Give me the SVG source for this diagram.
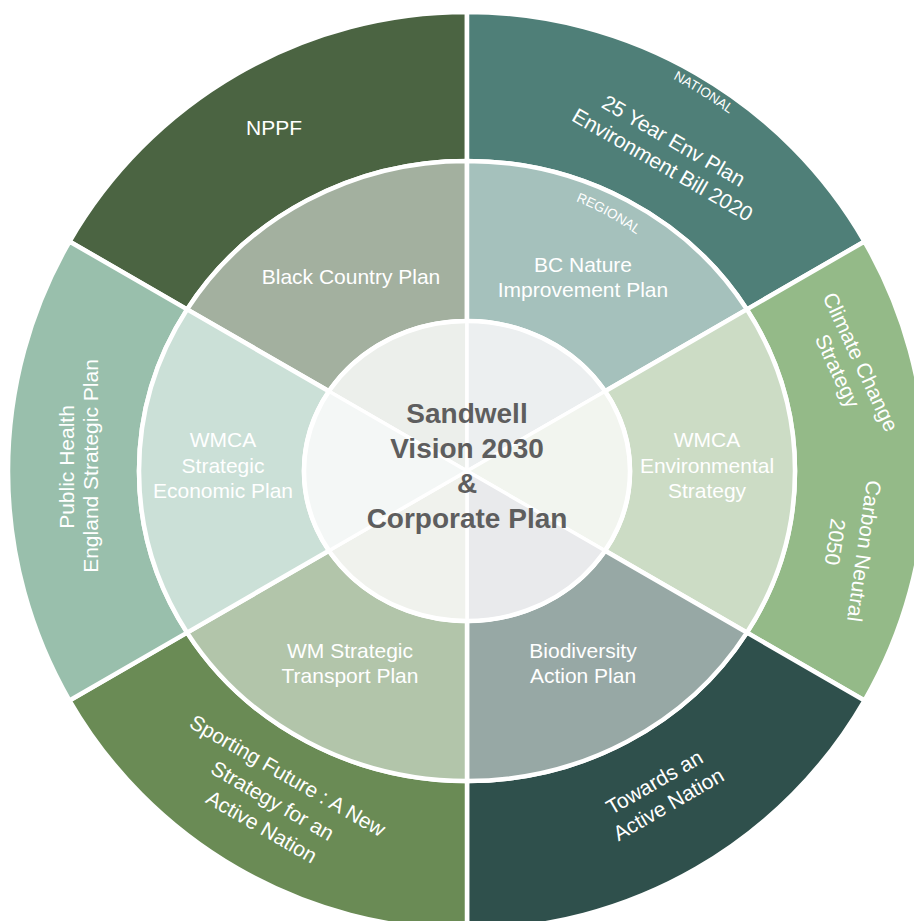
<svg xmlns="http://www.w3.org/2000/svg" width="914" height="921" viewBox="0 0 914 921">
<defs>
<style>
.seg{stroke:#ffffff;stroke-width:4.5;stroke-linejoin:miter}
.in{stroke:#ffffff;stroke-width:3.5}
.t{font-family:"Liberation Sans",Arial,Helvetica,sans-serif;font-size:21px;fill:#ffffff;text-anchor:middle}
.s{font-family:"Liberation Sans",Arial,Helvetica,sans-serif;font-size:13.5px;fill:#ffffff;text-anchor:middle}
.c{font-family:"Liberation Sans",Arial,Helvetica,sans-serif;font-size:28px;font-weight:bold;fill:#5e5e5e;text-anchor:middle}
</style>
<path id="arcNat" d="M596.5,47.4 A443,443 0 0 1 791,168.9"/>
<path id="arcReg" d="M542.3,189.9 A291,291 0 0 1 672.8,265.2"/>
</defs>
<rect width="914" height="921" fill="#ffffff"/>

<g id="nppf">
<path class="seg" fill="#4b6442" d="M69.5,241.5 A459,459 0 0 1 467,12 L467,161 A328,310 0 0 0 187.1,309.4 Z"/>
<text class="t" x="274" y="135">NPPF</text>
</g>
<g id="env-plan">
<path class="seg" fill="#4f7f78" d="M467,12 A459,459 0 0 1 864.5,241.5 L746.9,309.4 A328,310 0 0 0 467,161 Z"/>
<text class="s"><textPath href="#arcNat" startOffset="50%">NATIONAL</textPath></text>
<text class="t" transform="translate(670,147) rotate(30)">25 Year Env Plan</text>
<text class="t" transform="translate(659,171) rotate(30)">Environment Bill 2020</text>
</g>
<g id="climate">
<path class="seg" fill="#94ba88" d="M864.5,241.5 A459,459 0 0 1 864.5,700.5 L746.9,632.6 A328,310 0 0 0 746.9,309.4 Z"/>
<text class="t" transform="translate(854,365) rotate(65)">Climate Change</text>
<text class="t" transform="translate(831,374) rotate(65)">Strategy</text>
<text class="t" transform="translate(857,550) rotate(98)">Carbon Neutral</text>
<text class="t" transform="translate(828,541) rotate(98)">2050</text>
</g>
<g id="active-nation">
<path class="seg" fill="#2f504c" d="M864.5,700.5 A459,459 0 0 1 467,930 L467,781 A328,310 0 0 0 746.9,632.6 Z"/>
<text class="t" transform="translate(658,788.5) rotate(-30)">Towards an</text>
<text class="t" transform="translate(672,810.5) rotate(-30)">Active Nation</text>
</g>
<g id="sporting-future">
<path class="seg" fill="#6a8b55" d="M467,930 A459,459 0 0 1 69.5,700.5 L187.1,632.6 A328,310 0 0 0 467,781 Z"/>
<text class="t" transform="translate(284,782) rotate(30)">Sporting Future : A New</text>
<text class="t" transform="translate(269,807) rotate(30)">Strategy for an</text>
<text class="t" transform="translate(258,833) rotate(30)">Active Nation</text>
</g>
<g id="public-health">
<path class="seg" fill="#99bfac" d="M69.5,700.5 A459,459 0 0 1 69.5,241.5 L187.1,309.4 A328,310 0 0 0 187.1,632.6 Z"/>
<text class="t" transform="translate(74,467) rotate(-90)">Public Health</text>
<text class="t" transform="translate(98,466) rotate(-90)">England Strategic Plan</text>
</g>

<g id="black-country-plan">
<path class="seg" fill="#a3b09f" d="M187.1,309.4 A328,310 0 0 1 467,161 L467,321 A163,150 0 0 0 328.9,391.3 Z"/>
<text class="t" x="351" y="284">Black Country Plan</text>
</g>
<g id="bc-nature">
<path class="seg" fill="#a5c1bc" d="M467,161 A328,310 0 0 1 746.9,309.4 L605.1,391.3 A163,150 0 0 0 467,321 Z"/>
<text class="s"><textPath href="#arcReg" startOffset="46%">REGIONAL</textPath></text>
<text class="t" x="583" y="272">BC Nature</text>
<text class="t" x="583" y="297">Improvement Plan</text>
</g>
<g id="wmca-environmental">
<path class="seg" fill="#ccdcc5" d="M746.9,309.4 A328,310 0 0 1 746.9,632.6 L605.1,550.7 A163,150 0 0 0 605.1,391.3 Z"/>
<text class="t" x="707" y="447">WMCA</text>
<text class="t" x="707" y="473">Environmental</text>
<text class="t" x="707" y="498">Strategy</text>
</g>
<g id="biodiversity">
<path class="seg" fill="#97a8a5" d="M746.9,632.6 A328,310 0 0 1 467,781 L467,621 A163,150 0 0 0 605.1,550.7 Z"/>
<text class="t" x="583" y="658">Biodiversity</text>
<text class="t" x="583" y="683">Action Plan</text>
</g>
<g id="wm-transport">
<path class="seg" fill="#b2c5aa" d="M467,781 A328,310 0 0 1 187.1,632.6 L328.9,550.7 A163,150 0 0 0 467,621 Z"/>
<text class="t" x="350" y="658">WM Strategic</text>
<text class="t" x="350" y="683">Transport Plan</text>
</g>
<g id="wmca-economic">
<path class="seg" fill="#cbe0d7" d="M187.1,632.6 A328,310 0 0 1 187.1,309.4 L328.9,391.3 A163,150 0 0 0 328.9,550.7 Z"/>
<text class="t" x="223" y="447">WMCA</text>
<text class="t" x="223" y="473">Strategic</text>
<text class="t" x="223" y="498">Economic Plan</text>
</g>

<g id="center">
<path class="in" fill="#ecefeb" d="M467,471 L328.9,391.3 A163,150 0 0 1 467,321 Z"/>
<path class="in" fill="#eceff0" d="M467,471 L467,321 A163,150 0 0 1 605.1,391.3 Z"/>
<path class="in" fill="#f2f5ef" d="M467,471 L605.1,391.3 A163,150 0 0 1 605.1,550.7 Z"/>
<path class="in" fill="#e9eaec" d="M467,471 L605.1,550.7 A163,150 0 0 1 467,621 Z"/>
<path class="in" fill="#f0f2ed" d="M467,471 L467,621 A163,150 0 0 1 328.9,550.7 Z"/>
<path class="in" fill="#f4f7f6" d="M467,471 L328.9,550.7 A163,150 0 0 1 328.9,391.3 Z"/>
<ellipse cx="467" cy="471" rx="163" ry="150" fill="none" stroke="#ffffff" stroke-width="4.5"/>
<text class="c" x="467" y="423">Sandwell</text>
<text class="c" x="467" y="458">Vision 2030</text>
<text class="c" x="467" y="493">&amp;</text>
<text class="c" x="467" y="528">Corporate Plan</text>
</g>
</svg>
